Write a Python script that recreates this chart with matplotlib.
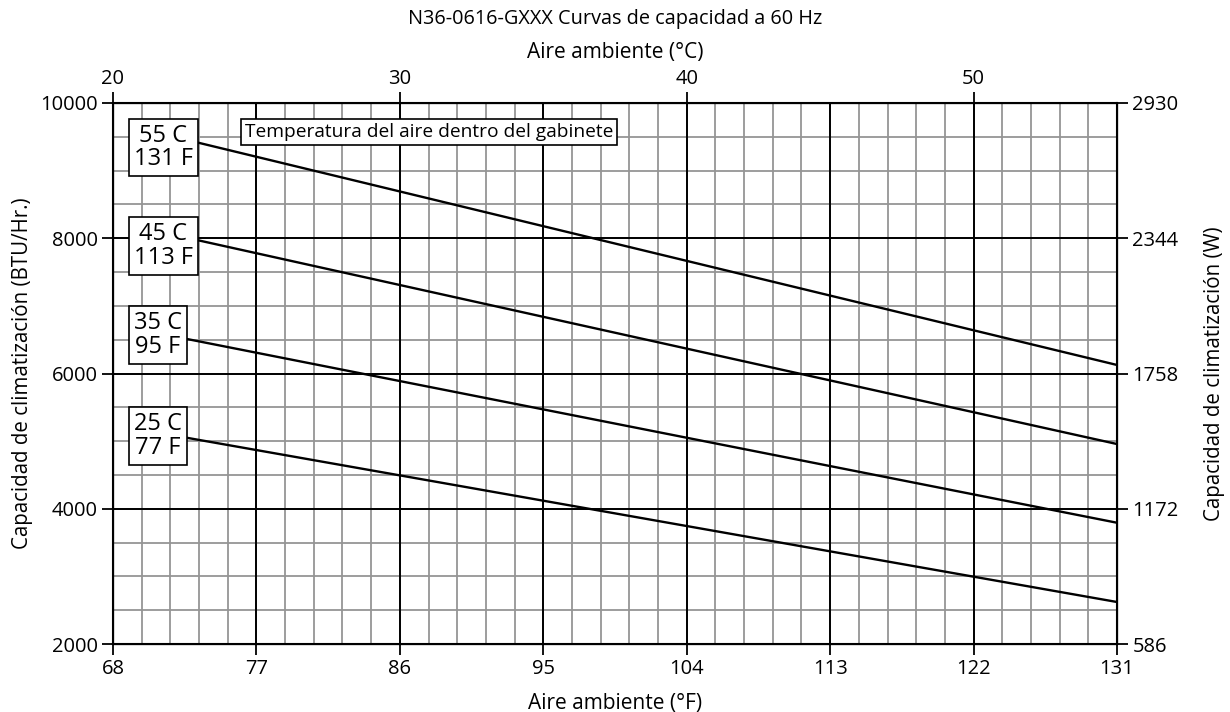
import numpy as np
import matplotlib as mpl
from matplotlib import pyplot as plt

mpl.rcParams.update({
    "font.family": ["Open Sans", "DejaVu Sans"],
    "text.usetex": False,
})

# ---- data ----
temp_f = [72, 131]                      # ambient air, deg F (start/end of each curve)
curve_labels = ["55 C\n131 F", "45 C\n113 F", "35 C\n95 F", "25 C\n77 F"]
cap_55 = [9490, 6126]
cap_45 = [8040, 4957]
cap_35 = [6540, 3793]
cap_25 = [5076, 2621]
label_y = [9342, 7885, 6569, 5076]      # centre of the label boxes (BTU/Hr)

x_ticks_f = [68, 77, 86, 95, 104, 113, 122, 131]
x_ticks_c = [20, 30, 40, 50]
y_ticks = [2000, 4000, 6000, 8000, 10000]
y_ticks_w = [586, 1172, 1758, 2344, 2930]

fig = plt.figure(figsize=(12.3, 7.12), dpi=100)
ax = fig.add_axes([113 / 1230, 1 - 644 / 712, (1117 - 113) / 1230, (644 - 103) / 712])

ax.set_xlim(68, 131)
ax.set_ylim(2000, 10000)

# minor grid: every 1 C (1.8 F) and every 500 BTU/Hr
for xv in np.arange(68, 131.01, 1.8):
    ax.axvline(xv, color='#959595', lw=1.3, zorder=1)
for yv in np.arange(2000, 10001, 500):
    ax.axhline(yv, color='#959595', lw=1.3, zorder=1)
# major grid
for xv in x_ticks_f:
    ax.axvline(xv, color='black', lw=1.4, zorder=2)
for yv in y_ticks:
    ax.axhline(yv, color='black', lw=1.4, zorder=2)

for caps in [cap_55, cap_45, cap_35, cap_25]:
    ax.plot(temp_f, caps, color='black', lw=1.7, zorder=3)

for lab, yc in zip(curve_labels, label_y):
    ax.text(69.3, yc, lab, ha='left', va='center', fontsize=17, linespacing=0.95,
            multialignment='center', zorder=5,
            bbox=dict(boxstyle='square,pad=0.22', fc='white', ec='black', lw=1.2))

ax.text(76.3, 9571, "Temperatura del aire dentro del gabinete", ha='left', va='center',
        fontsize=13.8, zorder=5,
        bbox=dict(boxstyle='square,pad=0.2', fc='white', ec='black', lw=1.2))

ax.set_xticks(x_ticks_f)
ax.set_yticks(y_ticks)
ax.tick_params(direction='out', length=8, width=1.3, labelsize=14.5, pad=3)
ax.set_xlabel("Aire ambiente (°F)", fontsize=15, labelpad=10)
ax.set_ylabel("Capacidad de climatización (BTU/Hr.)", fontsize=14.8, labelpad=5)
for s in ax.spines.values():
    s.set_linewidth(1.5)

# top axis in Celsius
axt = ax.twiny()
axt.set_xlim(20, 55)
axt.set_xticks(x_ticks_c)
axt.tick_params(direction='out', length=8, width=1.3, labelsize=14.5, pad=2)
axt.set_xlabel("Aire ambiente (°C)", fontsize=15, labelpad=8)

# right axis in watts
axr = ax.twinx()
axr.set_ylim(586, 2930)
axr.set_yticks(y_ticks_w)
axr.tick_params(direction='out', length=8, width=1.3, labelsize=14.5, pad=3)
axr.set_ylabel("Capacidad de climatización (W)", fontsize=14.8, labelpad=18)

fig.text(0.5, 1 - 19 / 712, "N36-0616-GXXX Curvas de capacidad a 60 Hz", ha='center',
         va='center', fontsize=14.3)

plt.savefig("out.png", dpi=100)
